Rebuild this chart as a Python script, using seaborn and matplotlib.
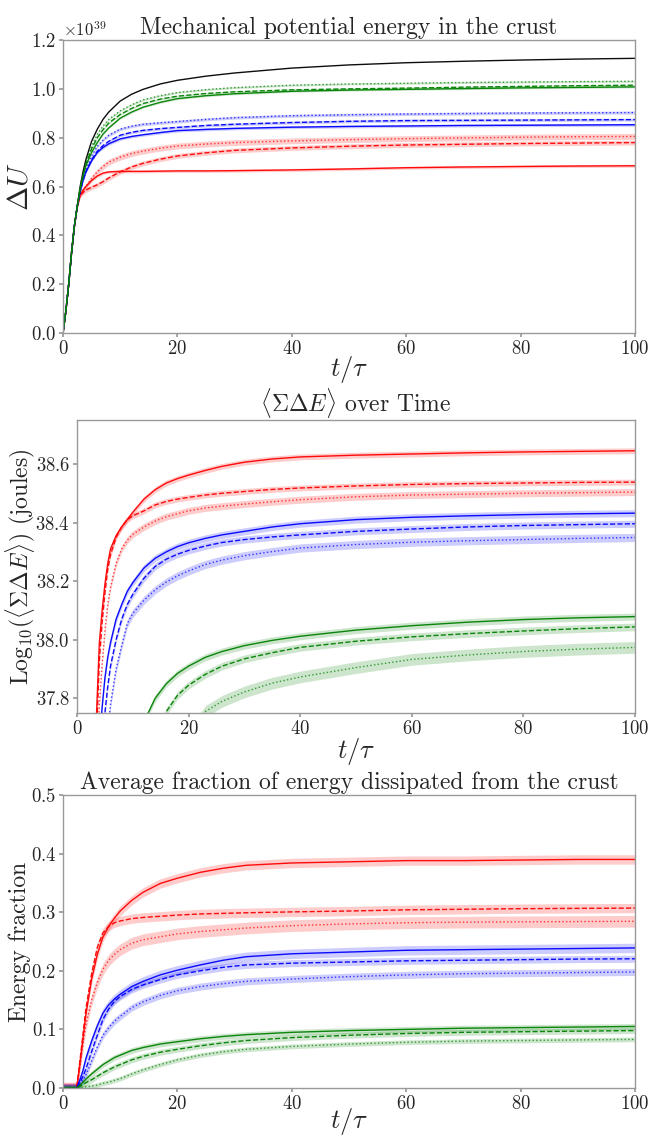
import numpy as np
import pandas as pd
import matplotlib
matplotlib.use("Agg")
import matplotlib.pyplot as plt
import seaborn as sns

sns.set_theme(style="ticks")
plt.rcParams["font.family"] = ["cmr10", "DejaVu Serif"]
plt.rcParams["mathtext.fontset"] = "cm"
plt.rcParams["axes.formatter.use_mathtext"] = True
plt.rcParams["axes.unicode_minus"] = False

# ---------------- Panel 1 : mechanical potential energy (units of 1e39) ----------------
t1 = [0, 0.5, 1, 1.5, 2, 2.5, 3, 3.5, 4, 5, 6, 7, 8, 10, 12, 14, 17, 20, 25, 30,
      40, 50, 60, 70, 80, 90, 100]
u_rise = [0, 0.09, 0.2, 0.33, 0.44, 0.52]          # shared part, t = 0 .. 2.5
u_black = u_rise + [0.6, 0.66, 0.71, 0.785, 0.835, 0.875, 0.905, 0.95, 0.978, 0.998, 1.02,
                    1.035, 1.052, 1.065, 1.085, 1.098, 1.107, 1.113, 1.118, 1.122, 1.125]
u_red_solid = u_rise + [0.565, 0.585, 0.60, 0.625, 0.643, 0.655, 0.66, 0.662, 0.662, 0.662, 0.663,
                        0.664, 0.664, 0.665, 0.668, 0.672, 0.677, 0.68, 0.682, 0.684, 0.685]
u_red_dash = u_rise + [0.565, 0.575, 0.585, 0.597, 0.607, 0.62, 0.635, 0.66, 0.68, 0.695, 0.712,
                       0.725, 0.738, 0.748, 0.758, 0.765, 0.77, 0.773, 0.776, 0.778, 0.78]
u_red_dot = u_rise + [0.565, 0.585, 0.60, 0.633, 0.66, 0.682, 0.70, 0.72, 0.735, 0.745, 0.757,
                      0.766, 0.774, 0.78, 0.787, 0.792, 0.796, 0.799, 0.802, 0.804, 0.805]
u_blue_solid = u_rise + [0.58, 0.625, 0.66, 0.705, 0.74, 0.76, 0.775, 0.795, 0.805, 0.812, 0.821,
                         0.829, 0.834, 0.838, 0.843, 0.846, 0.848, 0.85, 0.851, 0.852, 0.853]
u_blue_dash = u_rise + [0.58, 0.625, 0.66, 0.71, 0.745, 0.768, 0.785, 0.81, 0.822, 0.83, 0.837,
                        0.842, 0.85, 0.855, 0.862, 0.867, 0.87, 0.871, 0.872, 0.873, 0.874]
u_blue_dot = u_rise + [0.58, 0.63, 0.67, 0.725, 0.765, 0.79, 0.81, 0.835, 0.847, 0.855, 0.861,
                       0.866, 0.875, 0.882, 0.89, 0.894, 0.897, 0.899, 0.901, 0.902, 0.903]
u_green_solid = u_rise + [0.59, 0.64, 0.685, 0.74, 0.78, 0.815, 0.84, 0.88, 0.905, 0.925, 0.945,
                          0.96, 0.972, 0.98, 0.99, 0.995, 0.998, 1.001, 1.004, 1.006, 1.008]
u_green_dash = u_rise + [0.59, 0.645, 0.69, 0.755, 0.8, 0.833, 0.86, 0.895, 0.92, 0.94, 0.958,
                         0.97, 0.981, 0.988, 0.996, 1.0, 1.003, 1.007, 1.01, 1.013, 1.015]
u_green_dot = u_rise + [0.595, 0.65, 0.70, 0.765, 0.815, 0.848, 0.875, 0.91, 0.935, 0.955, 0.972,
                        0.985, 0.997, 1.005, 1.015, 1.02, 1.023, 1.026, 1.028, 1.03, 1.031]
u_spread = {"black": 0.0, "red_solid": 0.006, "red_dash": 0.010, "red_dot": 0.012,
            "blue_solid": 0.006, "blue_dash": 0.006, "blue_dot": 0.006,
            "green_solid": 0.004, "green_dash": 0.004, "green_dot": 0.004}
u_scale = 1e39

# ---------------- Panel 2 : log10 <sum dE> ----------------
t2 = [3, 3.5, 4, 4.5, 5, 5.5, 6, 7, 8, 9, 10, 12, 14, 16, 18, 20, 23, 26, 30, 35,
      40, 50, 60, 70, 80, 90, 100]
e_red_solid = [37.55, 37.75, 37.99, 38.10, 38.19, 38.26, 38.31, 38.355, 38.385, 38.41, 38.435,
               38.48, 38.512, 38.535, 38.55, 38.562, 38.578, 38.592, 38.606, 38.617, 38.624,
               38.63, 38.634, 38.638, 38.641, 38.643, 38.645]
e_red_dash = [37.45, 37.68, 37.93, 38.06, 38.16, 38.24, 38.29, 38.35, 38.385, 38.41, 38.423,
              38.44, 38.46, 38.472, 38.48, 38.486, 38.494, 38.50, 38.506, 38.513, 38.518,
              38.525, 38.53, 38.533, 38.535, 38.537, 38.538]
e_red_dot = [37.30, 37.55, 37.78, 37.92, 38.03, 38.12, 38.18, 38.26, 38.31, 38.34, 38.36,
             38.385, 38.405, 38.42, 38.43, 38.44, 38.45, 38.456, 38.463, 38.471, 38.478,
             38.488, 38.494, 38.497, 38.50, 38.502, 38.504]
e_blue_solid = [37.20, 37.45, 37.65, 37.77, 37.87, 37.94, 37.99, 38.07, 38.12, 38.165, 38.195,
                38.245, 38.278, 38.30, 38.318, 38.331, 38.346, 38.358, 38.37, 38.385, 38.396,
                38.41, 38.418, 38.423, 38.427, 38.43, 38.432]
e_blue_dash = [37.10, 37.30, 37.50, 37.64, 37.75, 37.84, 37.91, 38.00, 38.07, 38.12, 38.155,
               38.21, 38.25, 38.275, 38.292, 38.305, 38.32, 38.332, 38.342, 38.351, 38.358,
               38.37, 38.378, 38.385, 38.39, 38.393, 38.396]
e_blue_dot = [36.90, 37.10, 37.30, 37.45, 37.58, 37.69, 37.78, 37.90, 37.98, 38.055, 38.09,
              38.135, 38.17, 38.197, 38.218, 38.235, 38.257, 38.272, 38.287, 38.301, 38.313,
              38.325, 38.333, 38.338, 38.342, 38.346, 38.349]
e_green_solid = [36.50, 36.65, 36.80, 36.90, 37.00, 37.08, 37.15, 37.28, 37.40, 37.50, 37.58,
                 37.72, 37.80, 37.85, 37.885, 37.91, 37.94, 37.96, 37.98, 37.998, 38.012,
                 38.033, 38.048, 38.06, 38.069, 38.075, 38.079]
e_green_dash = [36.20, 36.30, 36.45, 36.55, 36.65, 36.75, 36.85, 37.00, 37.12, 37.25, 37.35,
                37.55, 37.66, 37.755, 37.81, 37.845, 37.882, 37.91, 37.935, 37.956, 37.974,
                37.995, 38.01, 38.021, 38.03, 38.038, 38.044]
e_green_dot = [35.80, 35.90, 36.00, 36.10, 36.20, 36.30, 36.40, 36.60, 36.75, 36.90, 37.00,
               37.20, 37.35, 37.50, 37.60, 37.67, 37.755, 37.79, 37.822, 37.852, 37.873,
               37.905, 37.933, 37.948, 37.96, 37.968, 37.974]
e_spread = {"red_solid": 0.010, "red_dash": 0.010, "red_dot": 0.012,
            "blue_solid": 0.012, "blue_dash": 0.012, "blue_dot": 0.014,
            "green_solid": 0.012, "green_dash": 0.013, "green_dot": 0.020}

# ---------------- Panel 3 : energy fraction ----------------
t3 = [0, 2.4, 3, 3.5, 4, 5, 6, 7, 8, 9, 10, 12, 14, 17, 20, 24, 28, 32, 40, 50, 60, 70, 80, 90, 100]
f_start = [0, 0]                                    # shared part, t = 0 .. 2.4
f_red_solid = f_start + [0.045, 0.085, 0.125, 0.185, 0.228, 0.258, 0.276, 0.29, 0.302, 0.32, 0.334,
                         0.349, 0.358, 0.368, 0.375, 0.38, 0.384, 0.386, 0.388, 0.388, 0.389, 0.39, 0.39]
f_red_dash = f_start + [0.05, 0.092, 0.135, 0.195, 0.24, 0.265, 0.276, 0.282, 0.285, 0.289, 0.291,
                        0.293, 0.295, 0.297, 0.298, 0.299, 0.3005, 0.302, 0.304, 0.305, 0.306, 0.3065, 0.307]
f_red_dot = f_start + [0.04, 0.075, 0.108, 0.15, 0.18, 0.203, 0.218, 0.228, 0.236, 0.247, 0.253,
                       0.258, 0.263, 0.267, 0.27, 0.273, 0.277, 0.28, 0.282, 0.283, 0.2835, 0.284, 0.2845]
f_blue_solid = f_start + [0.015, 0.03, 0.05, 0.08, 0.106, 0.128, 0.142, 0.152, 0.16, 0.173, 0.182,
                          0.193, 0.201, 0.21, 0.218, 0.224, 0.229, 0.232, 0.235, 0.236, 0.237, 0.238, 0.239]
f_blue_dash = f_start + [0.01, 0.02, 0.032, 0.062, 0.09, 0.117, 0.135, 0.148, 0.156, 0.168, 0.176,
                         0.185, 0.193, 0.2, 0.206, 0.21, 0.213, 0.215, 0.217, 0.218, 0.219, 0.22, 0.2205]
f_blue_dot = f_start + [0.006, 0.013, 0.022, 0.046, 0.07, 0.09, 0.103, 0.114, 0.122, 0.137, 0.147,
                        0.158, 0.166, 0.173, 0.178, 0.182, 0.186, 0.19, 0.193, 0.195, 0.196, 0.197, 0.198]
f_green_solid = f_start + [0.005, 0.01, 0.015, 0.024, 0.032, 0.04, 0.046, 0.052, 0.056, 0.064, 0.069,
                           0.075, 0.079, 0.084, 0.088, 0.091, 0.095, 0.098, 0.10, 0.102, 0.103, 0.104, 0.105]
f_green_dash = f_start + [0.003, 0.006, 0.009, 0.014, 0.02, 0.026, 0.031, 0.036, 0.04, 0.048, 0.054,
                          0.061, 0.066, 0.072, 0.077, 0.081, 0.086, 0.09, 0.093, 0.095, 0.096, 0.097, 0.098]
f_green_dot = f_start + [0.0005, 0.001, 0.002, 0.003, 0.005, 0.008, 0.01, 0.013, 0.016, 0.024, 0.031,
                         0.04, 0.048, 0.056, 0.062, 0.066, 0.071, 0.075, 0.078, 0.08, 0.081, 0.082, 0.083]
f_spread = {"red_solid": 0.008, "red_dash": 0.008, "red_dot": 0.010,
            "blue_solid": 0.008, "blue_dash": 0.006, "blue_dot": 0.006,
            "green_solid": 0.005, "green_dash": 0.005, "green_dot": 0.004}

colors = {"black": "black", "red": "red", "blue": "blue", "green": "green"}
styles = {"solid": "-", "dash": "--", "dot": ":"}

fig = plt.figure(figsize=(6.5, 11.37), dpi=100)
ax1 = fig.add_axes([0.0969, 0.7071, 0.8800, 0.2577])
ax2 = fig.add_axes([0.1185, 0.3729, 0.8584, 0.2577])
ax3 = fig.add_axes([0.0969, 0.0431, 0.8800, 0.2577])


def draw(ax, t, y, key, spread, scale=1.0):
    parts = key.split("_")
    col = colors[parts[0]]
    ls = styles[parts[1]] if len(parts) > 1 else "-"
    y = np.asarray(y, dtype=float) * scale
    s = spread.get(key, 0.0) * scale
    if s > 0:
        ax.fill_between(t, y - s, y + s, color=col, alpha=0.2, linewidth=0)
    sns.lineplot(x=t, y=y, ax=ax, color=col, linestyle=ls, linewidth=1.0,
                 alpha=0.75 if ls == ":" else 0.95)


p1 = {"black": u_black,
      "red_solid": u_red_solid, "red_dash": u_red_dash, "red_dot": u_red_dot,
      "blue_solid": u_blue_solid, "blue_dash": u_blue_dash, "blue_dot": u_blue_dot,
      "green_solid": u_green_solid, "green_dash": u_green_dash, "green_dot": u_green_dot}
for k, v in p1.items():
    draw(ax1, t1, v, k, u_spread, u_scale)

p2 = {"red_solid": e_red_solid, "red_dash": e_red_dash, "red_dot": e_red_dot,
      "blue_solid": e_blue_solid, "blue_dash": e_blue_dash, "blue_dot": e_blue_dot,
      "green_solid": e_green_solid, "green_dash": e_green_dash, "green_dot": e_green_dot}
for k, v in p2.items():
    draw(ax2, t2, v, k, e_spread)

p3 = {"red_solid": f_red_solid, "red_dash": f_red_dash, "red_dot": f_red_dot,
      "blue_solid": f_blue_solid, "blue_dash": f_blue_dash, "blue_dot": f_blue_dot,
      "green_solid": f_green_solid, "green_dash": f_green_dash, "green_dot": f_green_dot}
for k, v in p3.items():
    draw(ax3, t3, v, k, f_spread)

xticks = [0, 20, 40, 60, 80, 100]
for ax, ly in ((ax1, -0.072), (ax2, -0.08), (ax3, -0.06)):
    ax.set_xlim(0, 100)
    ax.set_xticks(xticks)
    ax.set_xlabel(r"$t/\tau$", fontsize=19)
    ax.xaxis.set_label_coords(0.5, ly)
    ax.tick_params(labelsize=13.5, length=3, color="0.6", pad=2)
    for sp in ax.spines.values():
        sp.set_color("0.6")
        sp.set_linewidth(1.0)

ax1.set_ylim(0, 1.2e39)
ax1.set_yticks(np.arange(0, 1.21, 0.2) * 1e39)
ax1.set_ylabel(r"$\Delta U$", fontsize=21)
ax1.yaxis.set_label_coords(-0.052, 0.5)
ax1.set_title("Mechanical potential energy in the crust", fontsize=17, pad=4)
ax1.yaxis.get_offset_text().set_fontsize(12)

ax2.set_ylim(37.75, 38.75)
ax2.set_yticks([37.8, 38.0, 38.2, 38.4, 38.6])
ax2.set_ylabel(r"$\mathrm{Log}_{10}(\langle\Sigma\Delta E\rangle)$ (joules)", fontsize=17)
ax2.yaxis.set_label_coords(-0.072, 0.5)
ax2.set_title(r"$\langle\Sigma\Delta E\rangle$ over Time", fontsize=17, pad=1)

ax3.set_ylim(0, 0.5)
ax3.set_yticks([0.0, 0.1, 0.2, 0.3, 0.4, 0.5])
ax3.set_ylabel("Energy fraction", fontsize=17)
ax3.yaxis.set_label_coords(-0.056, 0.5)
ax3.set_title("Average fraction of energy dissipated from the crust", fontsize=17, pad=4)

fig.savefig("out.png", dpi=100)
